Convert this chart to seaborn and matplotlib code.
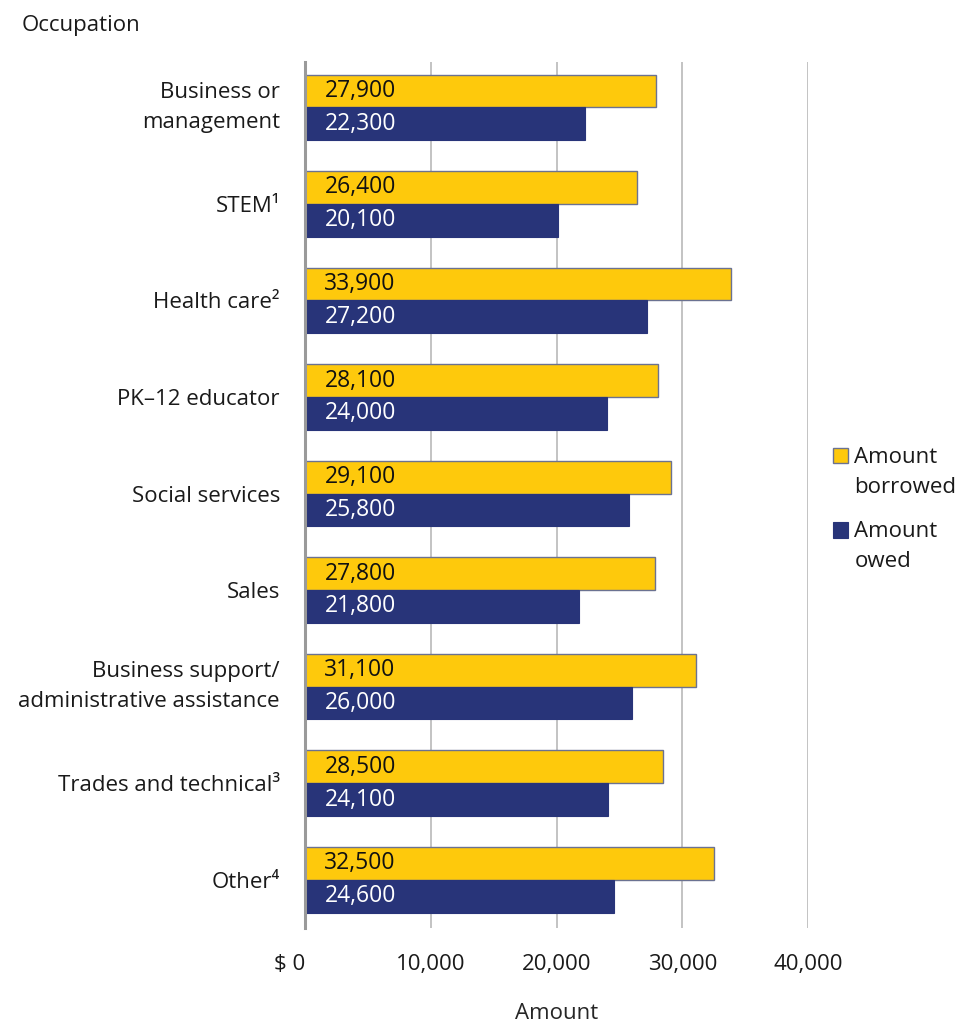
import matplotlib
matplotlib.use("Agg")
import matplotlib.pyplot as plt
from matplotlib.ticker import FuncFormatter, FixedLocator
from matplotlib.patches import Patch, Rectangle
from matplotlib.legend_handler import HandlerPatch
import seaborn as sns
import pandas as pd

# Average student loan amounts by occupation
occupations = [
    "Business or\nmanagement",
    "STEM\u00b9",
    "Health care\u00b2",
    "PK\u201312 educator",
    "Social services",
    "Sales",
    "Business support/\nadministrative assistance",
    "Trades and technical\u00b3",
    "Other\u2074",
]
amount_borrowed = [27900, 26400, 33900, 28100, 29100, 27800, 31100, 28500, 32500]
amount_owed = [22300, 20100, 27200, 24000, 25800, 21800, 26000, 24100, 24600]
series_names = ["Amount borrowed", "Amount owed"]
x_ticks = [0, 10000, 20000, 30000, 40000]

YELLOW = "#FEC90C"
NAVY = "#283479"
FS = 16
LINESPACING = 1.55

sns.set_theme(style="white")
plt.rcParams["font.family"] = ["Open Sans", "DejaVu Sans"]
plt.rcParams["text.color"] = "#1a1a1a"

df = pd.DataFrame({
    "Occupation": occupations * 2,
    "Series": [series_names[0]] * len(occupations) + [series_names[1]] * len(occupations),
    "Amount": amount_borrowed + amount_owed,
})

fig = plt.figure(figsize=(9.6, 10.28), dpi=100)
ax = fig.add_axes([0.3177, 0.0973, 0.8417 - 0.3177, 0.9397 - 0.0973])

sns.barplot(
    data=df, y="Occupation", x="Amount", hue="Series",
    palette=[YELLOW, NAVY], orient="h", width=0.68,
    order=occupations, hue_order=series_names,
    errorbar=None, legend=False, ax=ax, saturation=1,
)

# Thin outline on the bars
for patch in ax.containers[0]:
    patch.set_edgecolor("#6b7291")
    patch.set_linewidth(1.0)
for patch in ax.containers[1]:
    patch.set_edgecolor(NAVY)
    patch.set_linewidth(0.8)

# Value labels inside the bars, near the base
for container, values, color in zip(ax.containers, [amount_borrowed, amount_owed], ["#111111", "white"]):
    for patch, v in zip(container, values):
        yc = patch.get_y() + patch.get_height() / 2
        ax.annotate(f"{v:,}", xy=(0, yc), xytext=(14, 0), textcoords="offset points",
                    ha="left", va="center", fontsize=16.5, color=color)

ax.set_xlim(0, 40000)
ax.set_ylim(len(occupations) - 0.5, -0.47)
ax.xaxis.set_major_locator(FixedLocator(x_ticks))
ax.xaxis.set_major_formatter(FuncFormatter(lambda v, p: "$ 0" if v == 0 else f"{int(v):,}"))

ax.grid(axis="x", color="#b3b3b3", linewidth=1.1)
ax.grid(axis="y", visible=False)
ax.set_axisbelow(True)
for side in ["top", "right", "bottom"]:
    ax.spines[side].set_visible(False)
ax.spines["left"].set_color("#9a9a9a")
ax.spines["left"].set_linewidth(2.2)
ax.spines["left"].set_zorder(5)

ax.tick_params(axis="x", length=0, pad=19, labelsize=FS, labelcolor="#1a1a1a")
ax.tick_params(axis="y", length=0, pad=18, labelsize=FS, labelcolor="#1a1a1a")
for lbl in ax.get_yticklabels():
    lbl.set_horizontalalignment("right")
    lbl.set_multialignment("right")
    lbl.set_linespacing(LINESPACING)
    if "\n" in lbl.get_text():
        lbl.set_verticalalignment("center")
ax.get_xticklabels()[0].set_horizontalalignment("right")

ax.set_ylabel("")
ax.set_xlabel("Amount", fontsize=FS, labelpad=20)

fig.text(22 / 960, 1 - 25 / 1028, "Occupation", fontsize=FS, ha="left", va="center")


class TopAlignedSquare(HandlerPatch):
    """Legend square aligned with the first line of a two-line label."""
    def create_artists(self, legend, orig_handle, xdescent, ydescent, width, height, fontsize, trans):
        shift = 0.75 * fontsize
        p = Rectangle((-xdescent, -ydescent + shift), width, height)
        self.update_prop(p, orig_handle, legend)
        p.set_transform(trans)
        return [p]


handles = [
    Patch(facecolor=YELLOW, edgecolor="#6b7291", linewidth=1.0, label="Amount\nborrowed"),
    Patch(facecolor=NAVY, edgecolor=NAVY, linewidth=0.8, label="Amount\nowed"),
]
leg = fig.legend(handles=handles, loc="upper left", bbox_to_anchor=(0.858, 0.574),
                 frameon=False, fontsize=FS, handlelength=0.68, handleheight=0.68,
                 handletextpad=0.3, labelspacing=1.05, borderaxespad=0,
                 handler_map={Patch: TopAlignedSquare()})
for t in leg.get_texts():
    t.set_linespacing(LINESPACING)

fig.savefig("out.png", dpi=100)
